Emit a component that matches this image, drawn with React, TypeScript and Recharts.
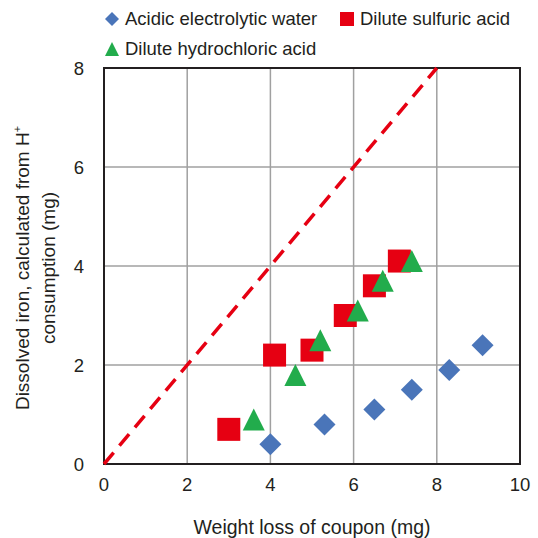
import {
  ScatterChart,
  Scatter,
  XAxis,
  YAxis,
  CartesianGrid,
  ReferenceArea,
} from "recharts";

const acidicX = [4.0, 5.3, 6.5, 7.4, 8.3, 9.1];
const acidicY = [0.4, 0.8, 1.1, 1.5, 1.9, 2.4];

const sulfuricX = [3.0, 4.1, 5.0, 5.8, 6.5, 7.1];
const sulfuricY = [0.7, 2.2, 2.3, 3.0, 3.6, 4.1];

const hydrochloricX = [3.6, 4.6, 5.2, 6.1, 6.7, 7.4];
const hydrochloricY = [0.9, 1.8, 2.5, 3.1, 3.7, 4.1];

// 1:1 line (all iron dissolved by H+)
const parityX = [0, 8];
const parityY = [0, 8];

const xTicks = [0, 2, 4, 6, 8, 10];
const yTicks = [0, 2, 4, 6, 8];

const toPoints = (xs: number[], ys: number[]) =>
  xs.map((x, i) => ({ x, y: ys[i] }));

const BLUE = "#4a75b9";
const RED = "#e60012";
const GREEN = "#22ac4c";
const TEXT = "#231f20";
const FONT = "'Liberation Sans', Arial, sans-serif";

const Diamond = (props: any) => {
  const { cx, cy } = props;
  const r = 11;
  return (
    <polygon
      points={`${cx},${cy - r} ${cx + r},${cy} ${cx},${cy + r} ${cx - r},${cy}`}
      fill={BLUE}
    />
  );
};

const Square = (props: any) => {
  const { cx, cy } = props;
  const s = 23;
  return <rect x={cx - s / 2} y={cy - s / 2} width={s} height={s} fill={RED} />;
};

const Triangle = (props: any) => {
  const { cx, cy } = props;
  const w = 22;
  const h = 22;
  return (
    <polygon
      points={`${cx},${cy - h / 2} ${cx + w / 2},${cy + h / 2} ${cx - w / 2},${cy + h / 2}`}
      fill={GREEN}
    />
  );
};

const NoDot = () => <g />;

const legendItems = [
  { name: "Acidic electrolytic water", kind: "diamond", x: 104, y: 8 },
  { name: "Dilute sulfuric acid", kind: "square", x: 339, y: 8 },
  { name: "Dilute hydrochloric acid", kind: "triangle", x: 104, y: 38 },
];

const ChartLegend = () => (
  <div style={{ position: "absolute", left: 0, top: 0, width: 538, height: 60, fontFamily: FONT }}>
    {legendItems.map((it) => (
      <div
        key={it.name}
        style={{
          position: "absolute",
          left: it.x,
          top: it.y,
          display: "flex",
          alignItems: "center",
          fontSize: 18.5,
          color: TEXT,
          whiteSpace: "nowrap",
        }}
      >
        <svg width={16} height={16} style={{ marginRight: 5 }}>
          {it.kind === "diamond" && <polygon points="8,1 15,8 8,15 1,8" fill={BLUE} />}
          {it.kind === "square" && <rect x={1} y={1} width={14} height={14} fill={RED} />}
          {it.kind === "triangle" && <polygon points="8,1 15,15 1,15" fill={GREEN} />}
        </svg>
        {it.name}
      </div>
    ))}
  </div>
);

const YTitle = () => {
  const cy = 268;
  return (
    <g fontFamily={FONT} fill={TEXT} fontSize={19}>
      <text x={0} y={0} textAnchor="middle" transform={`translate(29, ${cy}) rotate(-90)`}>
        Dissolved iron, calculated from H
        <tspan fontSize={11} dy={-8}>+</tspan>
      </text>
      <text x={0} y={0} textAnchor="middle" transform={`translate(55, ${cy}) rotate(-90)`}>
        consumption (mg)
      </text>
    </g>
  );
};

export default function App() {
  return (
    <div style={{ position: "absolute", left: 0, top: 0, width: 538, height: 538, background: "#fff" }}>
      <ScatterChart
        width={538}
        height={538}
        margin={{ top: 68, right: 18, bottom: 44, left: 74 }}
      >
        <CartesianGrid stroke="#a0a0a0" strokeWidth={1.5} />
        <XAxis
          type="number"
          dataKey="x"
          domain={[0, 10]}
          ticks={xTicks}
          interval={0}
          height={30}
          tickLine={false}
          tickSize={0}
          tickMargin={14}
          axisLine={{ stroke: TEXT, strokeWidth: 2 }}
          tick={{ fill: TEXT, fontSize: 18.5, fontFamily: FONT }}
          label={{
            value: "Weight loss of coupon (mg)",
            position: "insideBottom",
            offset: -40,
            fill: TEXT,
            fontSize: 19.5,
            fontFamily: FONT,
          }}
        />
        <YAxis
          type="number"
          dataKey="y"
          domain={[0, 8]}
          ticks={yTicks}
          interval={0}
          width={30}
          tickLine={false}
          tickSize={0}
          tickMargin={20}
          axisLine={{ stroke: TEXT, strokeWidth: 2 }}
          tick={{ fill: TEXT, fontSize: 18.5, fontFamily: FONT }}
          label={{ content: () => <YTitle /> }}
        />
        <ReferenceArea
          x1={0}
          x2={10}
          y1={0}
          y2={8}
          fill="none"
          stroke={TEXT}
          strokeWidth={2}
        />
        <Scatter
          name="parity"
          data={toPoints(parityX, parityY)}
          line={{ stroke: RED, strokeWidth: 3.5, strokeDasharray: "15 9" }}
          shape={NoDot}
          legendType="none"
          isAnimationActive={false}
        />
        <Scatter
          name="Acidic electrolytic water"
          data={toPoints(acidicX, acidicY)}
          shape={Diamond}
          isAnimationActive={false}
        />
        <Scatter
          name="Dilute sulfuric acid"
          data={toPoints(sulfuricX, sulfuricY)}
          shape={Square}
          isAnimationActive={false}
        />
        <Scatter
          name="Dilute hydrochloric acid"
          data={toPoints(hydrochloricX, hydrochloricY)}
          shape={Triangle}
          isAnimationActive={false}
        />
      </ScatterChart>
      <ChartLegend />
    </div>
  );
}
